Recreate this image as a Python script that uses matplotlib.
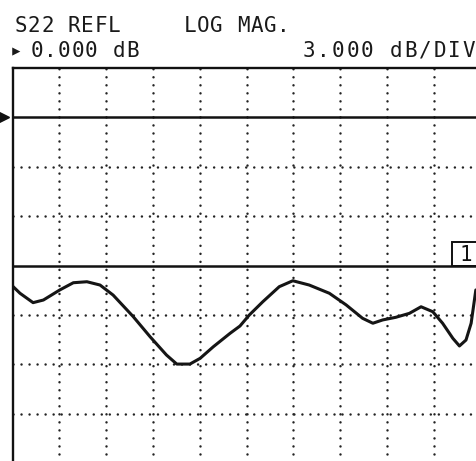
import numpy as np
import matplotlib
matplotlib.use("Agg")
import matplotlib.pyplot as plt
from matplotlib.patches import Rectangle

# screen setup: 10 horizontal divisions, 3 dB/div, reference 0 dB
ref_db = 0.0
db_per_div = 3.0
n_xdiv = 10
ytop_db = 3.0
ybot_db = -27.0

# S22 trace (x in divisions, y in dB)
trace_x = [0.00, 0.16, 0.44, 0.66, 1.01, 1.30, 1.59, 1.87, 2.15, 2.58,
           2.94, 3.29, 3.51, 3.79, 4.01, 4.29, 4.65, 4.86, 5.06, 5.35,
           5.70, 5.99, 6.34, 6.77, 7.13, 7.48, 7.70, 7.91, 8.19, 8.48,
           8.73, 8.98, 9.19, 9.41, 9.55, 9.69, 9.80, 9.87, 9.90]
trace_db = [-10.24, -10.68, -11.25, -11.09, -10.48, -10.04, -9.98, -10.18, -10.79, -12.10,
            -13.32, -14.43, -14.98, -14.98, -14.63, -13.93, -13.11, -12.67, -12.00, -11.19,
            -10.28, -9.92, -10.18, -10.68, -11.39, -12.20, -12.50, -12.30, -12.14, -11.90,
            -11.50, -11.80, -12.50, -13.42, -13.88, -13.52, -12.50, -11.09, -10.48]

line_db = -9.0          # solid horizontal line with marker box
marker_x = 9.68
marker_label = "1"

header = [("S22 REFL", 21.0, 13.3, 32),
          ("LOG MAG.", 190.0, 13.4, 32),
          ("\u25b8", 16.0, 13.6, 57),
          ("0.000 dB", 37.0, 13.6, 57),
          ("3.000 dB/DIV", 309.0, 14.5, 57)]

W, H = 476, 461
fig = plt.figure(figsize=(W / 100, H / 100), dpi=100)
fig.patch.set_facecolor("white")

# axes extends past the right and bottom edges like the cropped scan
left_px, top_px = 12.5, 68.0
div_w, div_h = 46.8, 49.4
ax_w = n_xdiv * div_w
ax_h = (ytop_db - ybot_db) / db_per_div * div_h
ax = fig.add_axes([left_px / W, 1 - (top_px + ax_h) / H, ax_w / W, ax_h / H])
ax.set_xlim(0, n_xdiv)
ax.set_ylim(ybot_db, ytop_db)
ax.set_xticks([])
ax.set_yticks([])
for s in ["left", "top", "right", "bottom"]:
    ax.spines[s].set_linewidth(1.7)
    ax.spines[s].set_color("#111111")

dot_style = dict(color="#222222", lw=1.8, dash_capstyle="round",
                 linestyle=(0, (0.01, 3.2)))
for gx in range(1, n_xdiv):
    ax.axvline(gx, **dot_style)
for gy in np.arange(ytop_db - db_per_div, ybot_db, -db_per_div):
    if gy in (ref_db, line_db):
        continue
    ax.axhline(gy, **dot_style)

ax.axhline(ref_db, color="#111111", lw=1.8)
ax.axhline(line_db, color="#111111", lw=1.8)

ax.plot(trace_x, trace_db, color="#151515", lw=2.2, solid_joinstyle="round",
        solid_capstyle="round")

# reference position arrow
ax.plot([-0.19], [ref_db], marker=">", color="#111111", markersize=7, clip_on=False)

# marker 1 box
ax.add_patch(Rectangle((9.39, line_db), 0.7, 1.45, fill=False, ec="#111111",
                       lw=1.4, clip_on=False))
ax.text(marker_x, line_db + 0.05, marker_label, ha="center", va="bottom",
        fontsize=15, family=["DejaVu Sans Mono"], color="#111111")

for text, x0, pitch, base in header:
    for i, ch in enumerate(text):
        if ch == " ":
            continue
        fig.text((x0 + i * pitch) / W, 1 - base / H, ch, ha="center", va="baseline",
                 fontsize=15, family=["DejaVu Sans Mono", "DejaVu Sans"],
                 color="#1a1a1a")

fig.savefig("out.png", dpi=100, facecolor="white")
